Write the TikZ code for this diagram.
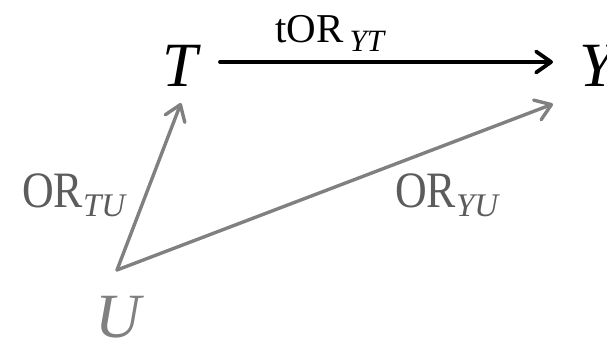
\documentclass[tikz,border=0pt]{standalone}
\usepackage{fontspec}
\setmainfont{Liberation Serif}
\usetikzlibrary{arrows.meta}
\definecolor{linegray}{RGB}{128,128,128}
\definecolor{textgray}{RGB}{92,92,92}
\newcommand{\mysub}[3]{\raisebox{#1}{\fontsize{#2}{#2}\selectfont\itshape #3}}
\begin{document}
\begin{tikzpicture}[x=1pt,y=-1pt,
  var/.style={inner sep=0pt, anchor=base, font=\fontsize{63}{63}\selectfont\itshape},
  lab/.style={inner sep=0pt, anchor=base west},
  barb/.style={-{Straight Barb[length=15pt,width=21pt,line cap=round,line join=round]}},
  blackarrow/.style={barb, draw=black, line width=3.8pt, line cap=round},
  grayarrow/.style={barb, draw=linegray, line width=3.4pt, line cap=round}]
\useasboundingbox (0,0) rectangle (607,344);
% variables
\node[var] (T) at (180,87) {T};
\node[var] (Y) at (597,87) {Y};
\node[var, text=linegray] (U) at (118,337) {U};
% connectors
\draw[blackarrow] ([shift={(40,-25)}]T.base) -- ([shift={(-44,-25)}]Y.base);
\draw[grayarrow] ([shift={(-1,-67)}]U.base) -- ([shift={(1,16)}]T.base);
\draw[grayarrow] ([shift={(-1,-67)}]U.base) -- ([shift={(-44,17)}]Y.base);
% labels
\node[lab, font=\fontsize{41}{41}\selectfont] (lYT) at (275,43)
  {tOR\hspace{6pt}\mysub{-9pt}{31}{YT}};
\node[lab, text=textgray, font=\fontsize{51}{51}\selectfont] (lTU) at (22,208)
  {\scalebox{0.86}[1]{OR}\mysub{-9pt}{33}{TU}};
\node[lab, text=textgray, font=\fontsize{51}{51}\selectfont] (lYU) at (395,208)
  {\scalebox{0.86}[1]{OR}\mysub{-9pt}{33}{YU}};
\end{tikzpicture}
\end{document}
